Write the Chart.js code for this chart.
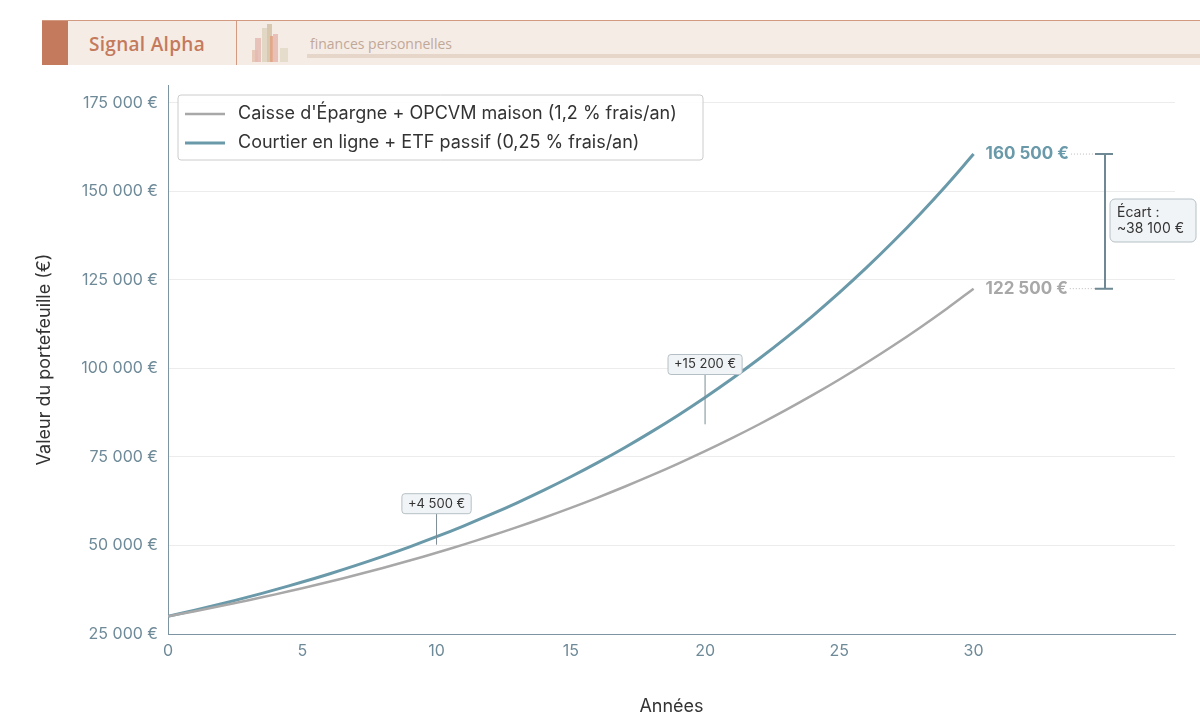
<!DOCTYPE html>
<html><head><meta charset="utf-8">
<script src="https://cdn.jsdelivr.net/npm/chart.js@4/dist/chart.umd.min.js"></script>
<style>
body{margin:0;background:#fff;width:1200px;height:721px;overflow:hidden;font-family:Inter,sans-serif}
#hdr{position:absolute;left:42px;top:20px;width:1158px;height:44px;background:#f6ece6;border-top:1px solid #d29a80;}
#sq{position:absolute;left:0;top:0;width:26px;height:44px;background:#c47a5c}
#t1{position:absolute;left:47px;top:10px;font:600 19px "Open Sans",sans-serif;color:#c47a5c;letter-spacing:0.3px}
#sep{position:absolute;left:194px;top:0;width:1px;height:44px;background:#d29a80}
#t2{position:absolute;left:268px;top:13px;font:14px "Open Sans",sans-serif;color:#c0a898}
#ul{position:absolute;left:265px;top:33px;right:0;height:4px;background:#e6d6ca}
canvas{position:absolute;left:0;top:0}
</style></head><body>
<canvas id="c" width="1200" height="721"></canvas>
<div id="hdr"><div id="sq"></div><div id="t1">Signal Alpha</div><div id="sep"></div>
<svg style="position:absolute;left:208px;top:3px" width="42" height="40">
<rect x="2" y="26" width="6" height="12" fill="#e8c8b8"/><rect x="5" y="14" width="6" height="24" fill="#e4b8b0" opacity="0.8"/>
<rect x="12" y="4" width="7" height="34" fill="#e2d6c4"/><rect x="17" y="0" width="5" height="38" fill="#d8c8b0"/>
<rect x="20" y="12" width="6" height="26" fill="#e0a080" opacity="0.8"/><rect x="23" y="10" width="5" height="28" fill="#e8c0b8"/>
<rect x="30" y="24" width="8" height="14" fill="#e6dccc"/></svg>
<div id="t2">finances personnelles</div><div id="ul"></div></div>
<script>
const years=[0,1,2,3,4,5,6,7,8,9,10,11,12,13,14,15,16,17,18,19,20,21,22,23,24,25,26,27,28,29,30];
const etf=[30000,31725,33549,35478,37518,39675,41956,44369,46920,49618,52471,55488,58678,62052,65620,69393,73383,77603,82065,86783,91773,97050,102630,108531,114772,121371,128350,135730,143534,151787,160500];
const caisse=[30000,31440,32949,34531,36188,37925,39745,41653,43653,45748,47944,50245,52657,55185,57834,60610,63519,66568,69763,73112,76621,80299,84153,88193,92426,96862,101512,106385,111491,116843,122500];
const seriesNames=["Caisse d'Épargne + OPCVM maison (1,2 % frais/an)","Courtier en ligne + ETF passif (0,25 % frais/an)"];
const yTicks=[25000,50000,75000,100000,125000,150000,175000];
const xTicks=[0,5,10,15,20,25,30];
const deltas=[{x:10,label:"+4 500 €"},{x:20,label:"+15 200 €"}];
const finalLabels=["122 500 €","160 500 €"];
const gapLabel=["Écart :","~38 100 €"];
const GRAY="#a8a8a8",BLUE="#6a9aaa",AX="#7d95a2";
const fmt=v=>v.toLocaleString('fr-FR').replace(/\u202f|\u00a0/g,' ')+' €';
function rr(ctx,x,y,w,h,r){ctx.beginPath();ctx.roundRect(x,y,w,h,r);}
const deco={id:'deco',afterDatasetsDraw(ch){
 const c=ch.ctx,xs=ch.scales.x,ys=ch.scales.y;c.save();
 rr(c,178,95,525,65,3);c.fillStyle='rgba(255,255,255,0.9)';c.fill();c.strokeStyle='#cccccc';c.lineWidth=1;c.stroke();
 c.font='18px Inter';c.textBaseline='middle';
 [[GRAY,2.5,114],[BLUE,3,143]].forEach((s,i)=>{c.strokeStyle=s[0];c.lineWidth=s[1];c.beginPath();c.moveTo(185,s[2]);c.lineTo(225,s[2]);c.stroke();c.fillStyle='#333';c.fillText(seriesNames[i],238,s[2]);});
 c.font='13px Inter';
 deltas.forEach(d=>{const i=years.indexOf(d.x);const px=xs.getPixelForValue(d.x);const yt=ys.getPixelForValue(etf[i]),yb=ys.getPixelForValue(caisse[i]);
  c.strokeStyle='#7d8c95';c.lineWidth=1;c.beginPath();c.moveTo(px,yt-23);c.lineTo(px,(yt+yb)/2);c.stroke();
  const w=c.measureText(d.label).width+12;rr(c,px-w/2,yt-43,w,20,3);c.fillStyle='#f1f4f6';c.fill();c.strokeStyle='#b5c0c6';c.stroke();
  c.fillStyle='#333';c.textAlign='center';c.fillText(d.label,px,yt-33);c.textAlign='left';});
 const x30=xs.getPixelForValue(30);const yB=ys.getPixelForValue(etf[30]),yG=ys.getPixelForValue(caisse[30]);
 c.font='bold 17px Inter';
 [[finalLabels[1],yB,BLUE],[finalLabels[0],yG,GRAY]].forEach(s=>{c.fillStyle=s[2];c.fillText(s[0],x30+12,s[1]);const w=c.measureText(s[0]).width;
  c.setLineDash([1,2]);c.strokeStyle='#bbb';c.lineWidth=1;c.beginPath();c.moveTo(x30+14+w,s[1]);c.lineTo(1095,s[1]);c.stroke();c.setLineDash([]);});
 c.strokeStyle='#6e8894';c.lineWidth=2;c.beginPath();c.moveTo(1105,yB);c.lineTo(1105,yG);c.moveTo(1095,yB);c.lineTo(1113,yB);c.moveTo(1095,yG);c.lineTo(1113,yG);c.stroke();
 rr(c,1110,199,86,43,5);c.fillStyle='#f1f4f6';c.fill();c.strokeStyle='#b5c0c6';c.lineWidth=1;c.stroke();
 c.fillStyle='#333';c.font='14px Inter';c.fillText(gapLabel[0],1117,213);c.fillText(gapLabel[1],1117,229);
 c.restore();}};
new Chart(document.getElementById('c'),{type:'line',
 data:{labels:years,datasets:[
  {label:seriesNames[0],data:years.map((x,i)=>({x,y:caisse[i]})),borderColor:GRAY,borderWidth:2.5,pointRadius:0,tension:0.4},
  {label:seriesNames[1],data:years.map((x,i)=>({x,y:etf[i]})),borderColor:BLUE,borderWidth:3,pointRadius:0,tension:0.4}]},
 options:{responsive:false,animation:false,layout:{padding:{top:85,right:25,left:30,bottom:0}},
  plugins:{legend:{display:false},tooltip:{enabled:false}},
  scales:{
   x:{type:'linear',min:0,max:37.5,afterBuildTicks:a=>{a.ticks=xTicks.map(v=>({value:v}))},afterFit:a=>{a.height=87},
    grid:{display:false,drawTicks:true,tickLength:6,tickColor:AX},border:{color:AX,width:1},
    ticks:{color:'#6e8a98',font:{size:16,family:'Inter'},padding:2},
    title:{display:true,text:'Années',color:'#333',font:{size:18,family:'Inter'},padding:{top:8}}},
   y:{min:25000,max:180000,afterBuildTicks:a=>{a.ticks=yTicks.map(v=>({value:v}))},afterFit:a=>{a.width=138},
    grid:{color:'#ececec',drawTicks:false},border:{color:AX,width:1},
    ticks:{color:'#6e8a98',font:{size:16,family:'Inter'},padding:10,callback:v=>fmt(v)},
    title:{display:true,text:'Valeur du portefeuille (€)',color:'#333',font:{size:18,family:'Inter'},padding:{bottom:14}}}}},
 plugins:[deco]});
</script></body></html>
